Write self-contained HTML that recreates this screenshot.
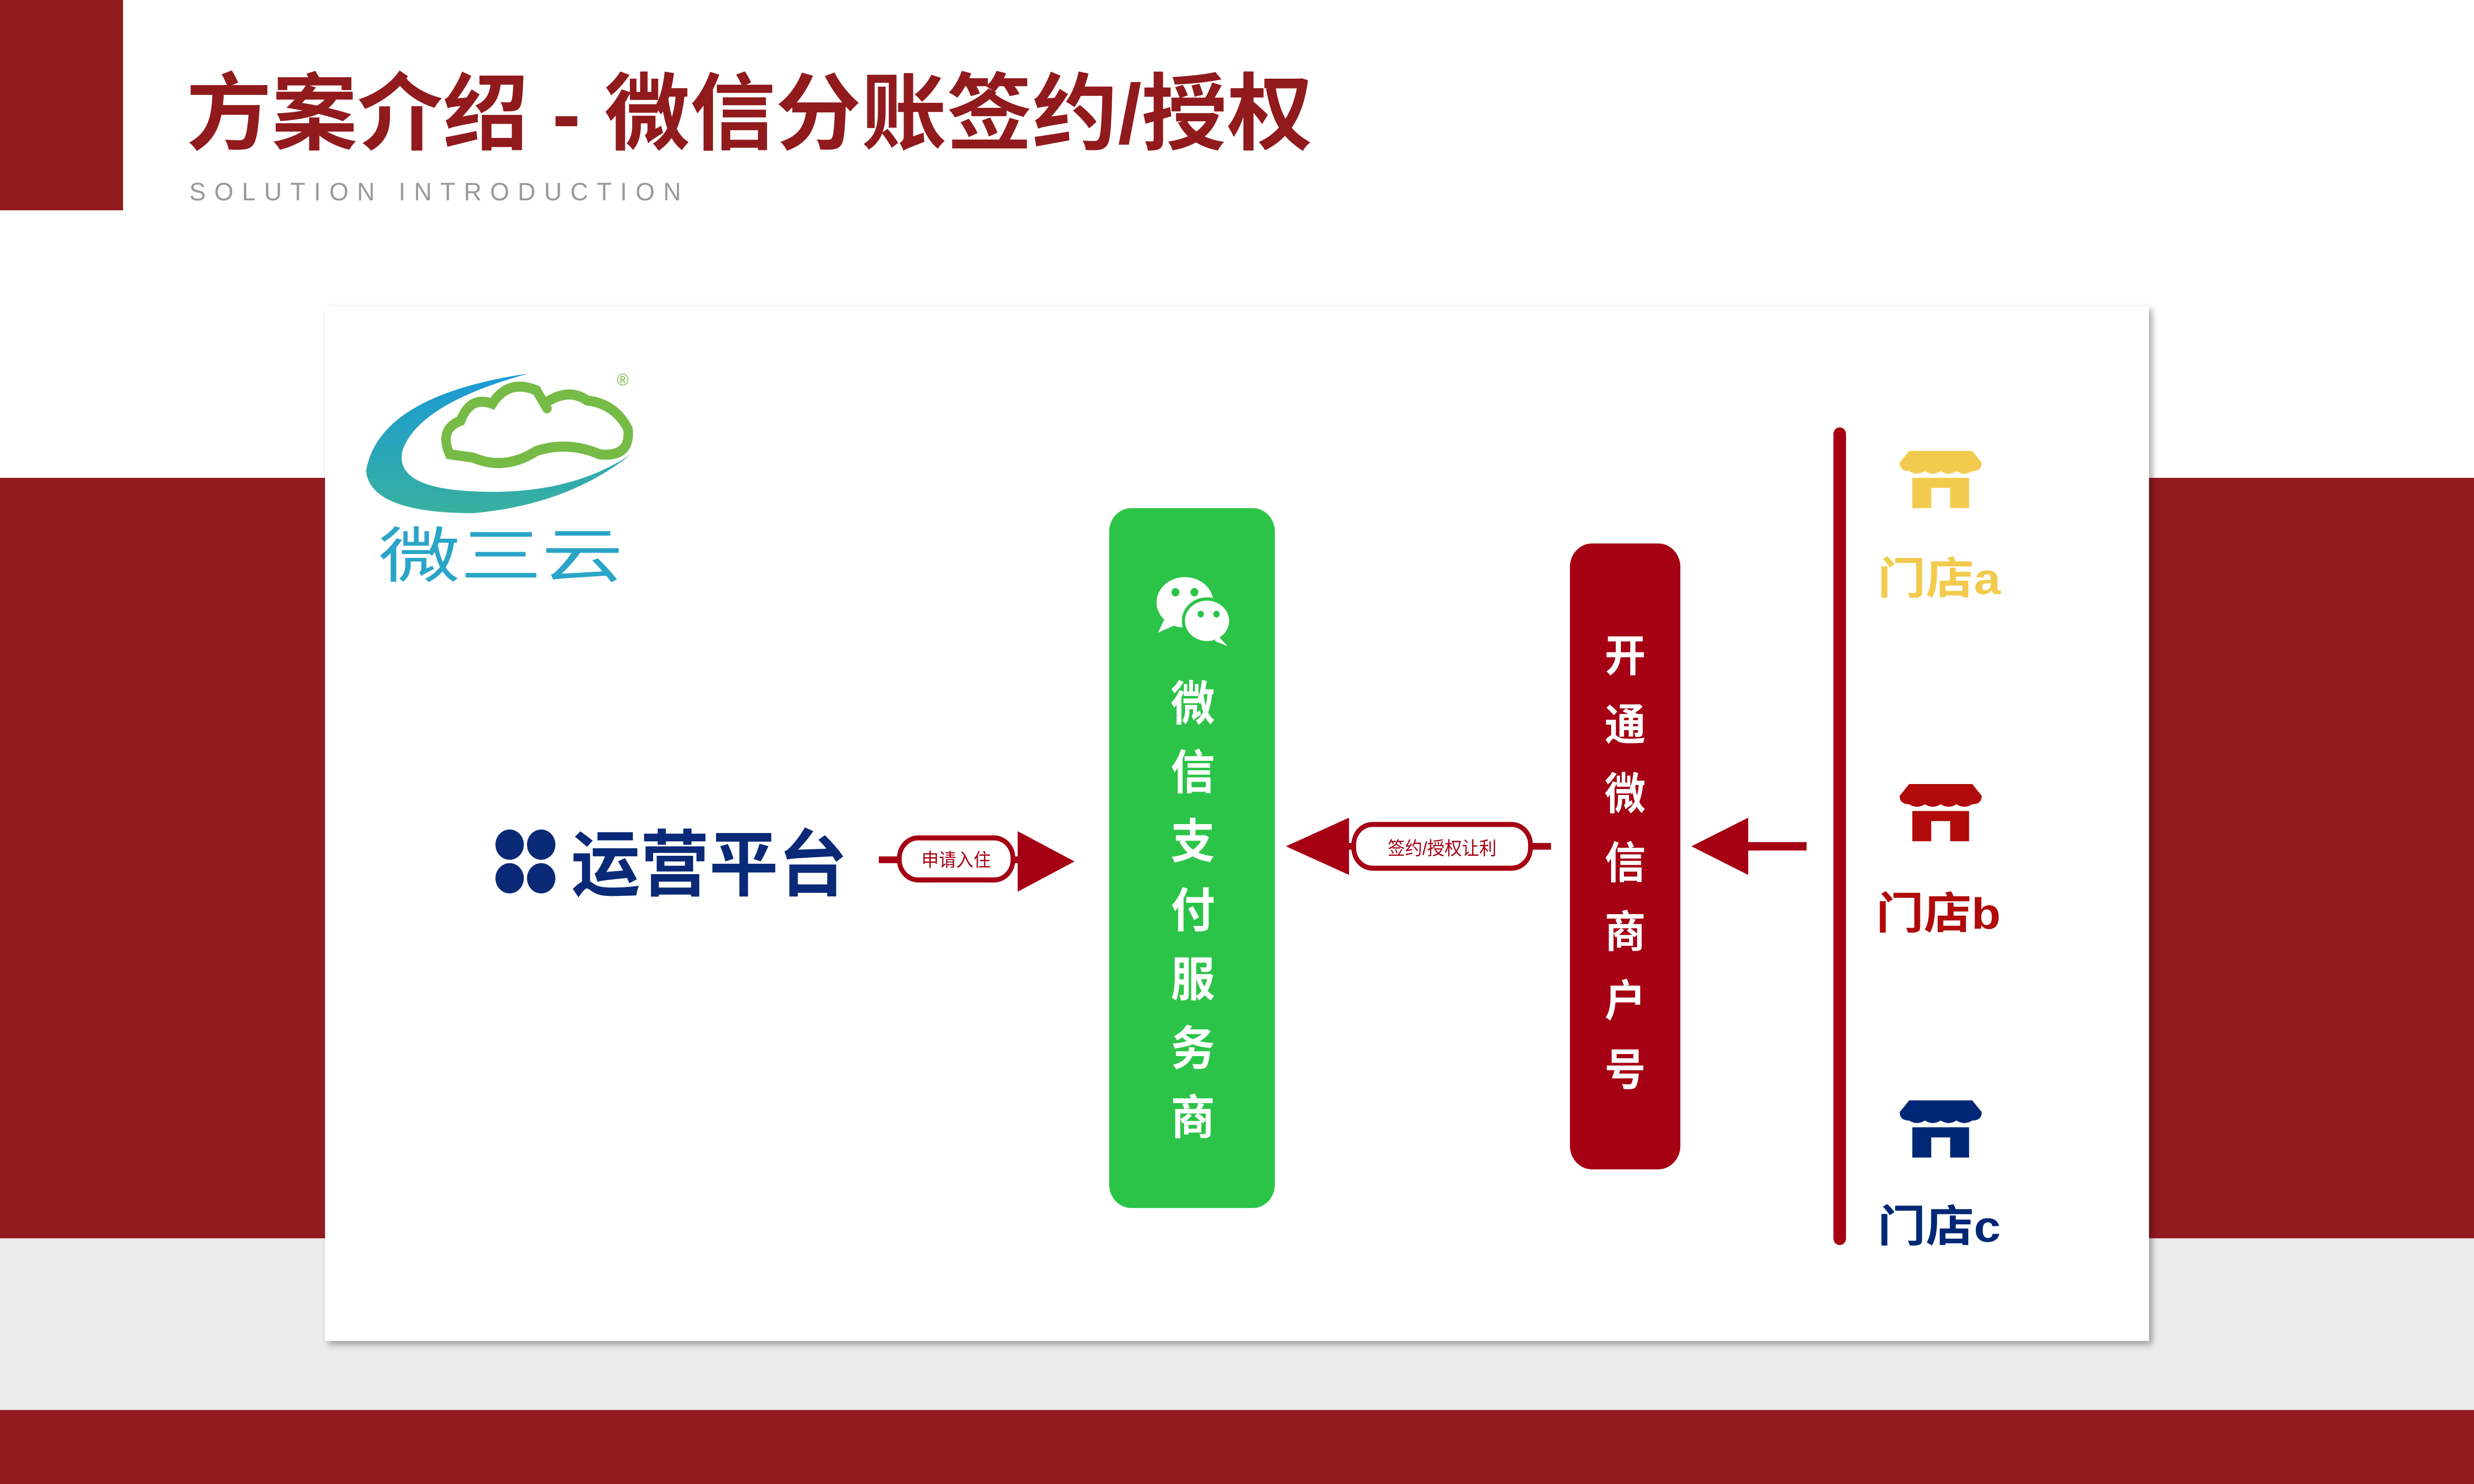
<!DOCTYPE html>
<html><head><meta charset="utf-8"><style>
html,body{margin:0;padding:0;background:#fff;overflow:hidden;width:100%;height:100%}
svg{display:block;position:fixed;left:0;top:0;width:100vw;height:100vh}
text{font-family:"Liberation Sans","Noto Sans CJK SC",sans-serif}
</style></head><body>
<svg viewBox="0 0 1568 882" preserveAspectRatio="none" xmlns="http://www.w3.org/2000/svg">
<defs>
<linearGradient id="lg" x1="0" y1="0" x2="0" y2="1"><stop offset="0" stop-color="#1a9ad6"/><stop offset="1" stop-color="#38b0a0"/></linearGradient>
<filter id="sh" x="-5%" y="-5%" width="110%" height="110%"><feDropShadow dx="2" dy="2" stdDeviation="2" flood-color="#000" flood-opacity="0.35"/></filter>
<g id="store"><path d="M6 0 H46 L52 7 Q52 12 46 12 Q41 15 36 12 Q31 15 26 12 Q21 15 16 12 Q11 15 6 12 Q0 12 0 7 Z"/><path d="M8 16 H44 V34 H32 V22 H20 V34 H8 Z"/></g>
</defs>
<rect width="1568" height="882" fill="#fff"/>
<rect x="0" y="0" width="78" height="125" fill="#911a1d"/>
<text x="118" y="85" font-size="50" font-weight="bold" fill="#911a1d" textLength="714" lengthAdjust="spacingAndGlyphs">方案介绍 - 微信分账签约/授权</text>
<text x="120" y="119" font-size="15" fill="#999" letter-spacing="5.2" textLength="317" lengthAdjust="spacingAndGlyphs">SOLUTION INTRODUCTION</text>
<rect x="0" y="284" width="1568" height="452" fill="#931a1e"/>
<rect x="0" y="736" width="1568" height="102" fill="#ececec"/>
<rect x="0" y="838" width="1568" height="44" fill="#931a1e"/>
<rect x="206" y="182" width="1156" height="615" fill="#fff" filter="url(#sh)"/>
<path d="M335 222 Q240 235 232 280 Q235 305 300 305 Q360 300 400 270 Q360 295 300 292 Q250 290 255 268 Q265 240 335 222 Z" fill="url(#lg)"/>
<path d="M285 270 Q278 255 292 250 Q298 235 312 240 Q322 225 340 232 Q350 248 345 240 Q360 230 372 238 Q390 240 398 255 Q400 272 380 270 Q360 262 340 268 Q320 280 300 272 Z" fill="none" stroke="#76bb46" stroke-width="6"/>
<text x="391" y="229" font-size="10" fill="#76bb46">®</text>
<text x="240" y="343" font-size="36" fill="#2aa5c8" textLength="155" lengthAdjust="spacingAndGlyphs">微三云</text>
<g fill="#0a2a78"><circle cx="323" cy="502" r="9"/><circle cx="343" cy="502" r="9"/><circle cx="323" cy="522" r="9"/><circle cx="343" cy="522" r="9"/></g>
<text x="362" y="529" font-size="43" font-weight="bold" fill="#0a2a78" textLength="175" lengthAdjust="spacingAndGlyphs">运营平台</text>
<line x1="557" y1="511" x2="648" y2="511" stroke="#a50013" stroke-width="4"/>
<rect x="570" y="498" width="72" height="25" rx="12" fill="#fff" stroke="#a50013" stroke-width="3"/>
<text x="606" y="515" font-size="11" fill="#a50013" text-anchor="middle">申请入住</text>
<polygon points="645,494 681,512 645,530" fill="#a50013"/>
<rect x="703" y="302" width="105" height="416" rx="14" fill="#2cc448"/>
<g fill="#fff"><ellipse cx="751" cy="358" rx="18" ry="15"/><polygon points="738,368 734,376 746,371"/></g>
<g fill="#fff" stroke="#2cc448" stroke-width="2"><ellipse cx="765" cy="369" rx="15" ry="13"/></g>
<polygon points="772,378 778,384 770,381" fill="#fff"/>
<g fill="#2cc448"><circle cx="745" cy="352" r="2.5"/><circle cx="757" cy="352" r="2.5"/><circle cx="761" cy="365" r="2"/><circle cx="771" cy="365" r="2"/></g>
<g font-size="28" fill="#fff" text-anchor="middle" font-weight="bold">
<text x="756" y="428">微</text><text x="756" y="469">信</text><text x="756" y="510">支</text><text x="756" y="551">付</text><text x="756" y="592">服</text><text x="756" y="633">务</text><text x="756" y="674">商</text></g>
<polygon points="855,486 815,503 855,520" fill="#a50013"/>
<line x1="850" y1="503" x2="983" y2="503" stroke="#a50013" stroke-width="4"/>
<rect x="858" y="490" width="112" height="26" rx="12" fill="#fff" stroke="#a50013" stroke-width="3"/>
<text x="914" y="508" font-size="11" fill="#a50013" text-anchor="middle">签约/授权让利</text>
<rect x="995" y="323" width="70" height="372" rx="14" fill="#a50013"/>
<g font-size="26" fill="#fff" text-anchor="middle" font-weight="bold">
<text x="1030" y="399">开</text><text x="1030" y="440">通</text><text x="1030" y="481">微</text><text x="1030" y="522">信</text><text x="1030" y="563">商</text><text x="1030" y="604">户</text><text x="1030" y="645">号</text></g>
<polygon points="1108,486 1072,503 1108,520" fill="#a50013"/>
<line x1="1100" y1="503" x2="1145" y2="503" stroke="#a50013" stroke-width="5"/>
<line x1="1166" y1="258" x2="1166" y2="736" stroke="#a50013" stroke-width="8" stroke-linecap="round"/>
<use href="#store" x="1204" y="268" fill="#f2cb4e"/>
<text x="1190" y="353" font-size="26" font-weight="bold" fill="#f2cb4e" textLength="78" lengthAdjust="spacingAndGlyphs">门店a</text>
<use href="#store" x="1204" y="466" fill="#b00a0a"/>
<text x="1189" y="552" font-size="26" font-weight="bold" fill="#b00a0a" textLength="79" lengthAdjust="spacingAndGlyphs">门店b</text>
<use href="#store" x="1204" y="654" fill="#002775"/>
<text x="1190" y="738" font-size="26" font-weight="bold" fill="#002775" textLength="78" lengthAdjust="spacingAndGlyphs">门店c</text>
</svg>
</body></html>
